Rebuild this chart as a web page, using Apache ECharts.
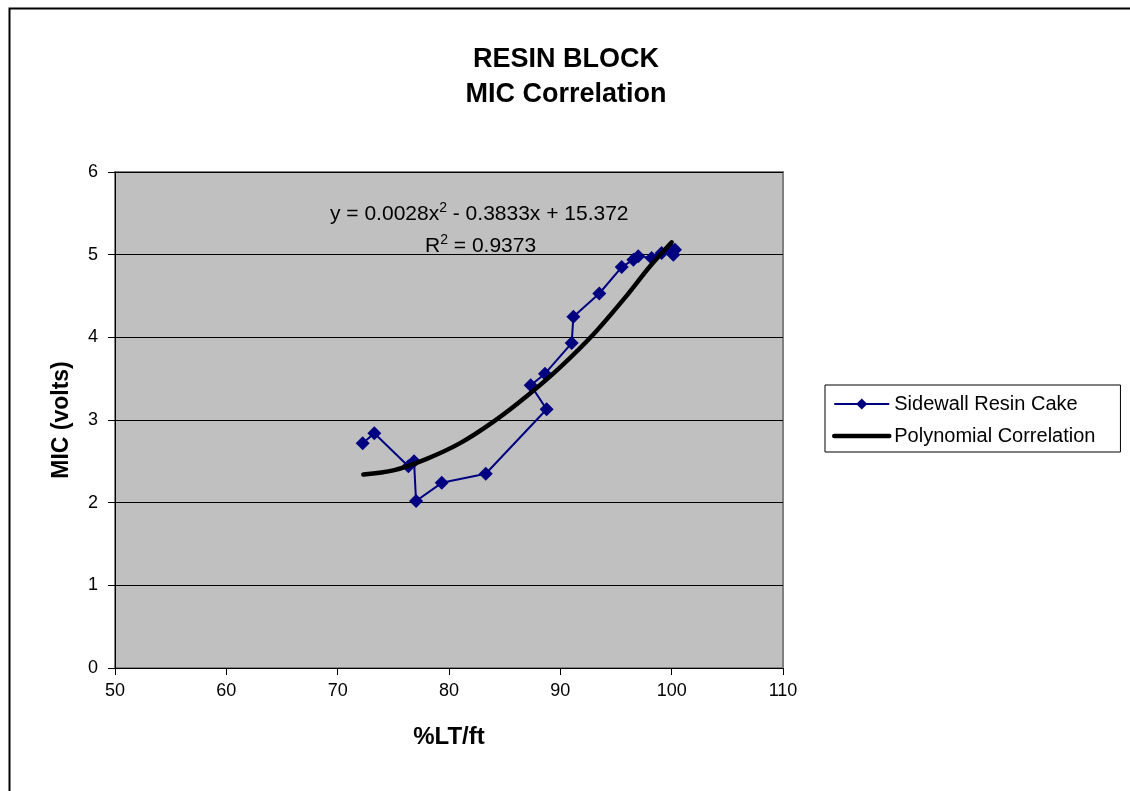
<!DOCTYPE html>
<html>
<head>
<meta charset="utf-8">
<script src="https://cdn.jsdelivr.net/npm/echarts@6/dist/echarts.min.js"></script>
<style>
html,body{margin:0;padding:0;background:#fff;}
#chart{width:1130px;height:791px;}
</style>
</head>
<body>
<div id="chart"></div>
<script>
// Sidewall Resin Cake measurements (%LT/ft, MIC volts), in plotted order
var sidewallX = [72.25, 73.29, 76.35, 76.86, 77.04, 79.35, 83.30, 88.77, 87.34, 88.62, 91.02, 91.17, 93.50, 95.51, 96.56, 97.00, 98.20, 99.10, 100.0, 100.3, 100.15];
var sidewallY = [2.72, 2.84, 2.44, 2.50, 2.02, 2.24, 2.35, 3.13, 3.42, 3.56, 3.93, 4.25, 4.53, 4.85, 4.94, 4.98, 4.96, 5.02, 5.06, 5.06, 5.00];
// Polynomial correlation curve
var polyX = [72.3, 75, 78, 81, 84, 87, 90, 93, 96, 98, 100];
var polyY = [2.34, 2.39, 2.53, 2.72, 2.98, 3.29, 3.64, 4.04, 4.51, 4.85, 5.15];
var xTicks = [50, 60, 70, 80, 90, 100, 110];
var yTicks = [0, 1, 2, 3, 4, 5, 6];

function pairs(xs, ys){ return xs.map(function(x,i){ return [x, ys[i]]; }); }

var FONT = '"Liberation Sans", Arial, sans-serif';
var chart = echarts.init(document.getElementById('chart'), null, {renderer:'canvas'});
chart.setOption({
  animation: false,
  backgroundColor: '#ffffff',
  textStyle: {fontFamily: FONT},
  title: {
    text: 'RESIN BLOCK\nMIC Correlation',
    left: 561, top: 37, textAlign: 'center',
    textStyle: {fontFamily: FONT, fontSize: 27, fontWeight: 'bold', color: '#000', lineHeight: 35}
  },
  legend: {
    orient: 'vertical',
    left: 825, top: 385,
    padding: [9, 25, 6, 7],
    itemGap: 12,
    itemWidth: 55, itemHeight: 14,
    backgroundColor: '#ffffff',
    borderColor: '#000', borderWidth: 1, borderRadius: 0,
    textStyle: {fontFamily: FONT, fontSize: 20, color: '#000', lineHeight: 20},
    data: [
      {name: 'Sidewall Resin Cake', lineStyle: {width: 2}},
      {name: 'Polynomial Correlation', lineStyle: {width: 4.5}}
    ]
  },
  grid: {left: 115, top: 172, width: 668, height: 496, show: true, backgroundColor: '#c0c0c0', borderColor: '#808080', borderWidth: 2},
  xAxis: {
    type: 'value', min: 50, max: 110, interval: 10,
    name: '%LT/ft', nameLocation: 'middle', nameGap: 57,
    nameTextStyle: {fontFamily: FONT, fontSize: 24, fontWeight: 'bold', color: '#000'},
    axisLine: {show: true, onZero: false, lineStyle: {color: '#000', width: 1}},
    axisTick: {show: true, inside: false, length: 7, lineStyle: {color: '#000'}},
    axisLabel: {fontFamily: FONT, fontSize: 18, color: '#000', margin: 14,
      formatter: function(v){ return xTicks.indexOf(v) >= 0 ? String(v) : ''; }},
    splitLine: {show: false}
  },
  yAxis: {
    type: 'value', min: 0, max: 6, interval: 1,
    name: 'MIC (volts)', nameLocation: 'middle', nameGap: 42, nameRotate: 90,
    nameTextStyle: {fontFamily: FONT, fontSize: 23, fontWeight: 'bold', color: '#000'},
    axisLine: {show: true, lineStyle: {color: '#000', width: 1}},
    axisTick: {show: true, inside: false, length: 7, lineStyle: {color: '#000'}},
    axisLabel: {fontFamily: FONT, fontSize: 18, color: '#000', margin: 17,
      formatter: function(v){ return yTicks.indexOf(v) >= 0 ? String(v) : ''; }},
    splitLine: {show: true, lineStyle: {color: '#000', width: 1}}
  },
  series: [
    {
      name: 'Sidewall Resin Cake', type: 'line',
      data: pairs(sidewallX, sidewallY),
      symbol: 'diamond', symbolSize: 14, showAllSymbol: true,
      lineStyle: {color: '#000080', width: 2},
      itemStyle: {color: '#000080', borderColor: '#000080', borderWidth: 0},
      z: 3
    },
    {
      name: 'Polynomial Correlation', type: 'line',
      data: pairs(polyX, polyY),
      smooth: 0.3, symbol: 'none',
      lineStyle: {color: '#000', width: 4.5, cap: 'round'},
      itemStyle: {color: 'rgba(0,0,0,0)'},
      z: 4
    }
  ],
  graphic: [
    {type: 'rect', left: 7, top: 6, silent: true, z: 100,
      shape: {x: 0, y: 0, width: 1300, height: 1000},
      style: {fill: 'none', stroke: '#000', lineWidth: 2}},
    {type: 'text', left: 330, top: 201, z: 50,
      style: {
        text: '{n|y = 0.0028x}{s|2}{n| - 0.3833x + 15.372}',
        rich: {
          n: {fontFamily: FONT, fontSize: 21, color: '#000', lineHeight: 24, verticalAlign: 'bottom'},
          s: {fontFamily: FONT, fontSize: 14, color: '#000', lineHeight: 24, verticalAlign: 'top'}
        }
      }},
    {type: 'text', left: 425, top: 233, z: 50,
      style: {
        text: '{n|R}{s|2}{n| = 0.9373}',
        rich: {
          n: {fontFamily: FONT, fontSize: 21, color: '#000', lineHeight: 24, verticalAlign: 'bottom'},
          s: {fontFamily: FONT, fontSize: 14, color: '#000', lineHeight: 24, verticalAlign: 'top'}
        }
      }}
  ]
});
</script>
</body>
</html>
